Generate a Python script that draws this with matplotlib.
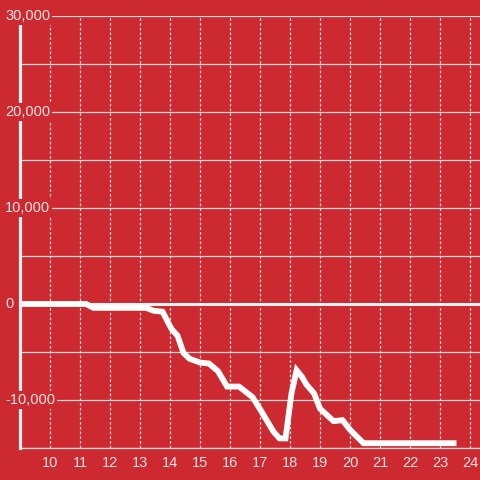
import matplotlib
matplotlib.use("Agg")
import matplotlib.pyplot as plt

# hours of day vs. cumulative value
hours = [9.0, 11.2, 11.45, 13.2, 13.45, 13.75, 14.05, 14.25, 14.45, 14.65,
         15.0, 15.3, 15.6, 15.9, 16.3, 16.75, 17.05, 17.45, 17.65, 17.85,
         18.05, 18.22, 18.4, 18.55, 18.8, 19.0, 19.45, 19.75, 20.0, 20.45, 23.55]
values = [0, 0, -400, -400, -700, -800, -2600, -3300, -5100, -5700,
          -6100, -6200, -7000, -8600, -8600, -9700, -11200, -13300, -14000, -14000,
          -9300, -6900, -7600, -8400, -9300, -10900, -12200, -12100, -13100, -14500, -14500]

x_ticks = list(range(10, 25))
y_labels = [30000, 20000, 10000, 0, -10000]

RED = "#cc2a30"
TXT = "#f2e4e4"
GRID = "#d8d8d8"

fig = plt.figure(figsize=(4.8, 4.8), dpi=100, facecolor=RED)
ax = fig.add_axes([20 / 480, 32 / 480, 460 / 480, 432 / 480])
ax.set_facecolor(RED)
ax.set_xlim(9.0, 9.0 + 460 / 30)
ax.set_ylim(-15000, 30000)

for v in range(-15000, 30001, 5000):
    if v != 0:
        ax.axhline(v, color=GRID, lw=0.9, zorder=1)
for t in x_ticks:
    ax.axvline(t, color=GRID, lw=0.9, ls=(0, (2.2, 1.6)), zorder=1)
ax.axhline(0, color="#f6f2f2", lw=2.2, zorder=2)

ax.plot(hours, values, color="white", lw=4.2, solid_joinstyle="miter",
        solid_capstyle="butt", zorder=3)

for s in ["top", "right"]:
    ax.spines[s].set_visible(False)
ax.spines["left"].set_color("#f4f0f0")
ax.spines["left"].set_linewidth(2.3)
ax.spines["left"].set_zorder(4)
ax.spines["bottom"].set_color(GRID)
ax.spines["bottom"].set_linewidth(0.9)

ax.set_xticks(x_ticks)
ax.tick_params(axis="x", length=0, pad=6, labelsize=10.5, labelcolor=TXT)
ax.set_yticks([])
for lab in ax.get_xticklabels():
    lab.set_fontfamily("Liberation Sans")

for v in y_labels:
    ax.text(9.0 - 15 / 30, v, f"{v:,}", transform=ax.transData,
            ha="left", va="center", color=TXT, fontsize=10.5,
            family="Liberation Sans", zorder=6, clip_on=False,
            bbox=dict(boxstyle="square,pad=0.15", fc=RED, ec="none"))

fig.savefig("out.png", dpi=100, facecolor=RED)
